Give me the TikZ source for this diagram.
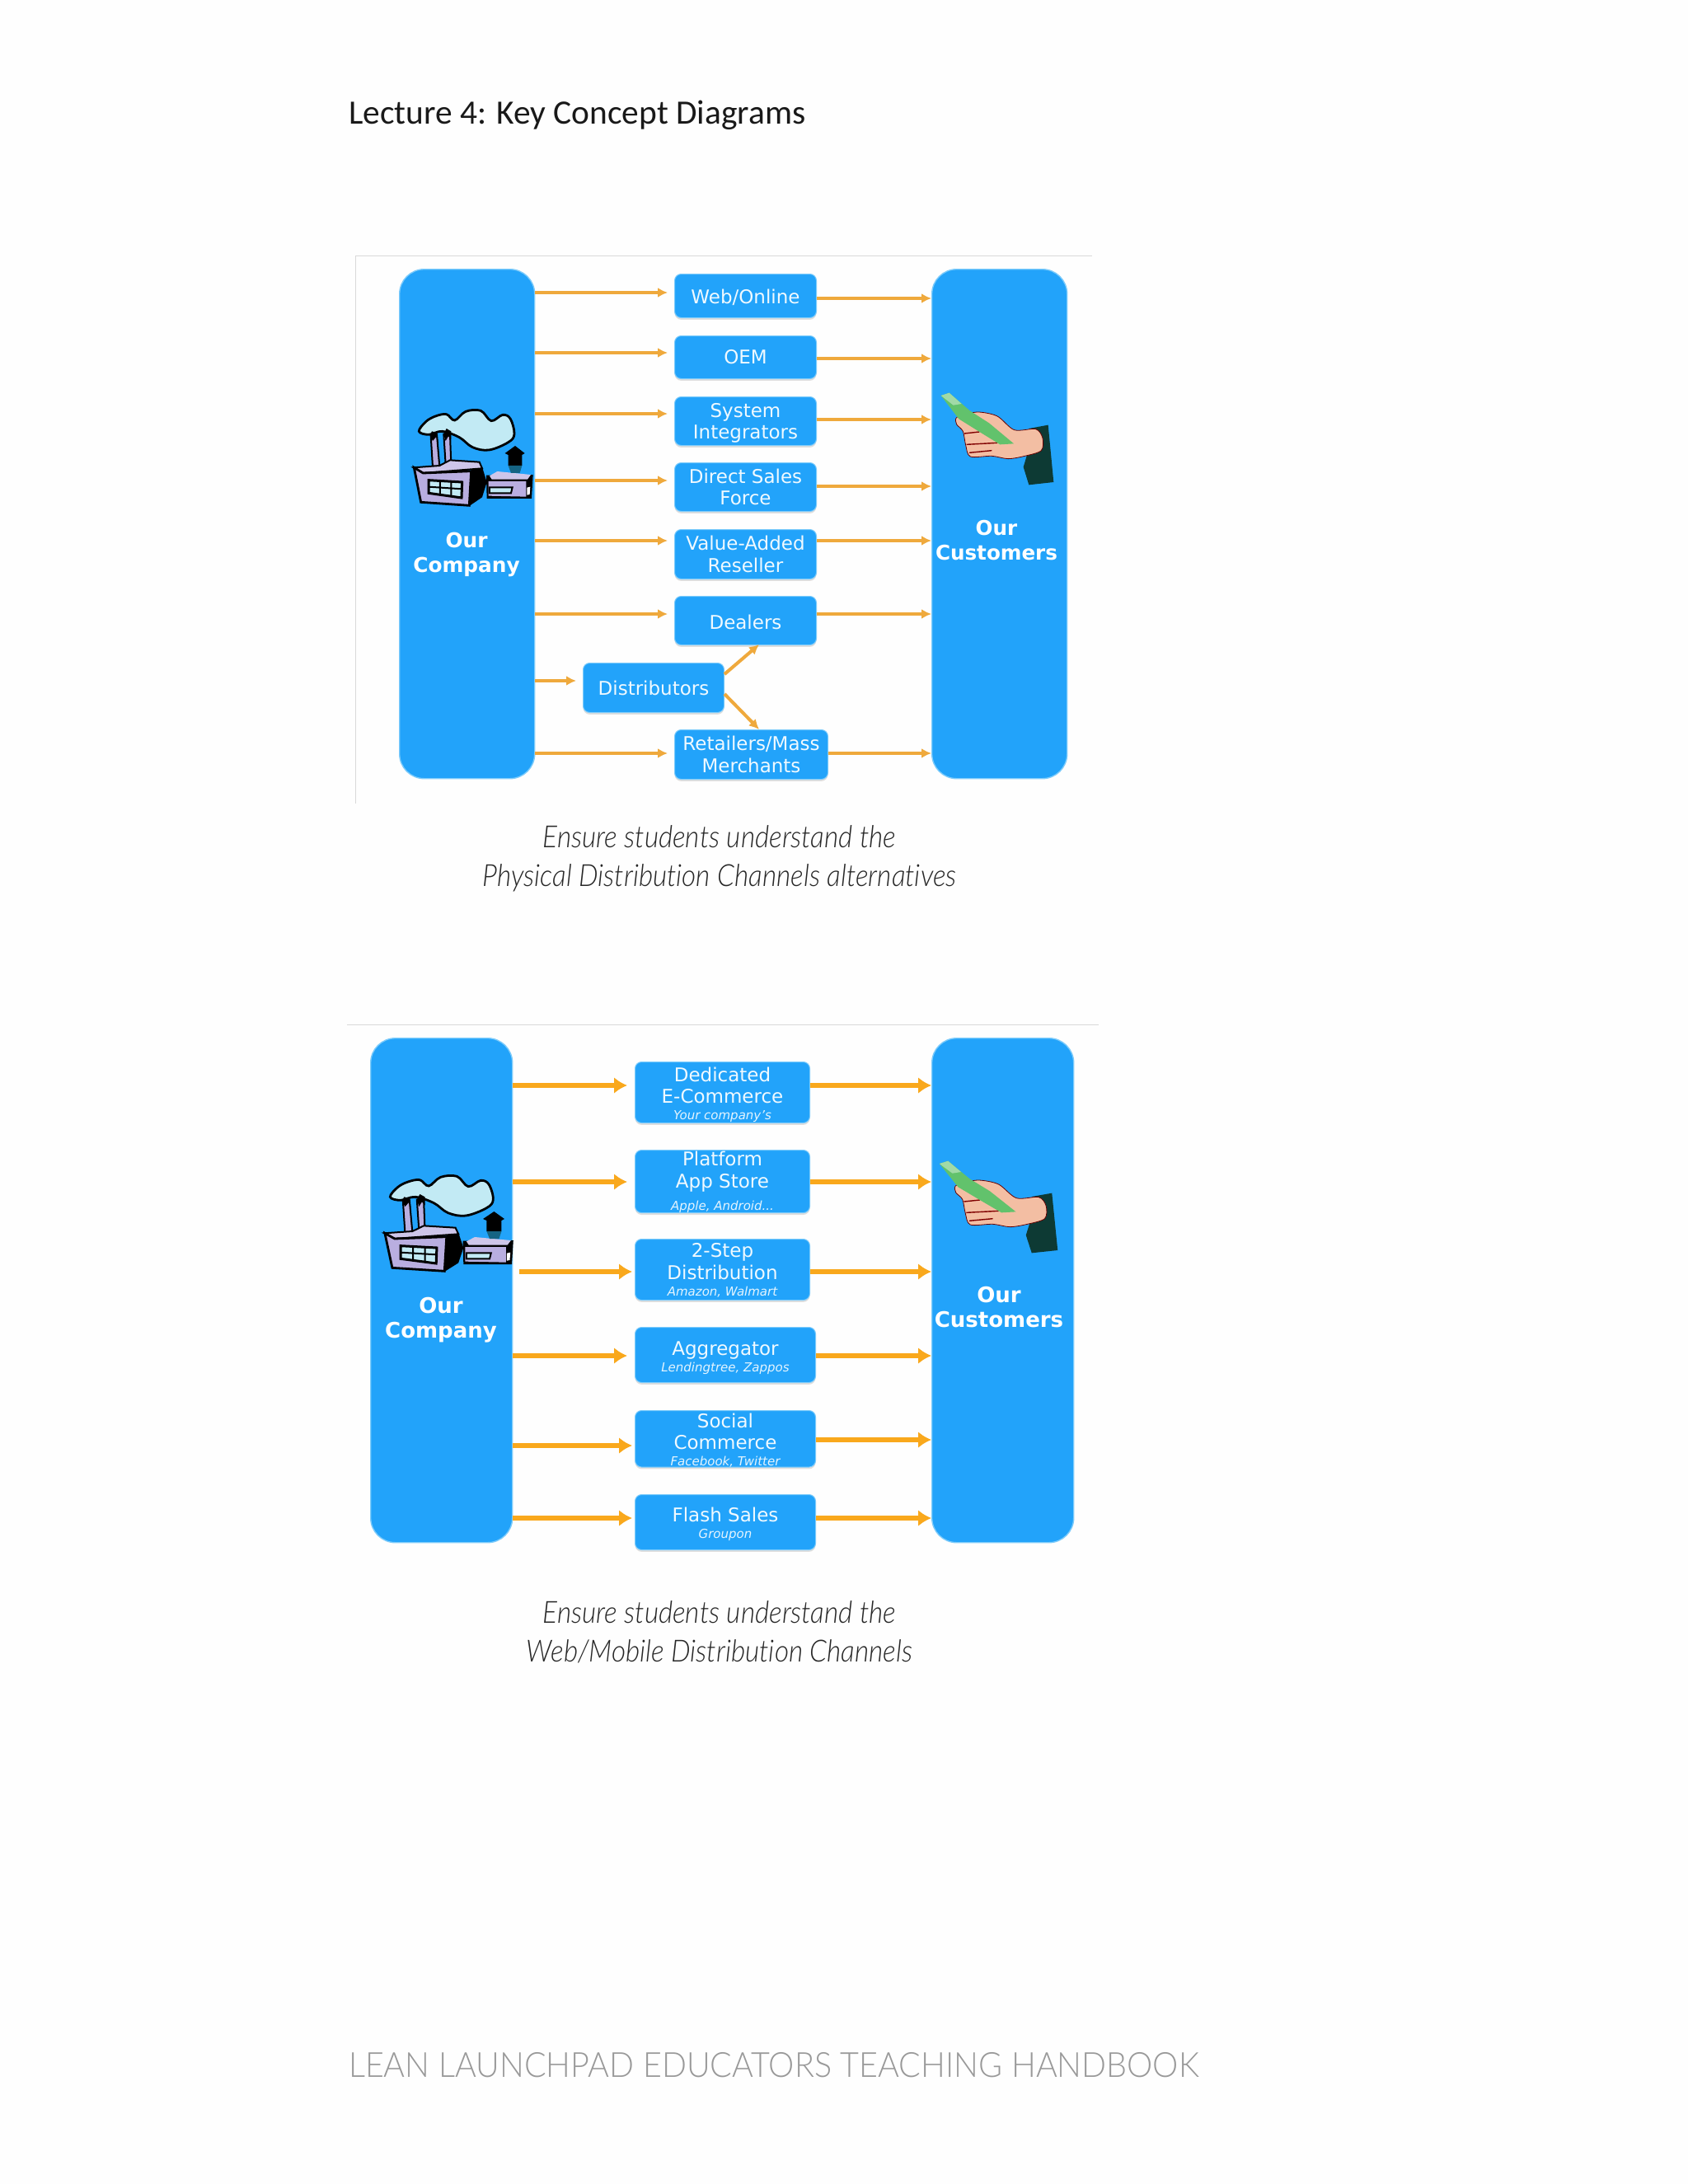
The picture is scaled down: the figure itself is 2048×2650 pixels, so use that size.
\documentclass[tikz,border=0pt]{standalone}
\usepackage{fontspec}
\setmainfont{DejaVu Sans}
\newfontfamily\gillfont{Carlito}
\newfontfamily\thinfont[FakeStretch=.9,Ligatures=NoCommon]{Lato Light}
\newfontfamily\footfont[FakeStretch=.94]{Lato Light}
\newcommand{\sublabelfont}{\fontsize{7.5}{9}\selectfont\itshape\color{white!88!panelblue}}
\newcommand{\topgap}[1]{\rule{0pt}{#1pt}}
\usetikzlibrary{arrows.meta,shadows}
\definecolor{pagewhite}{HTML}{FEFEFE}
\definecolor{panelblue}{HTML}{22A3FA}
\definecolor{paleblue}{HTML}{7CCBFB}
\definecolor{flowA}{HTML}{EFA93C}
\definecolor{flowB}{HTML}{F9A81C}
\definecolor{lilac}{HTML}{B9AEE0}
\definecolor{cloudblue}{HTML}{C2EAF4}
\definecolor{skin}{HTML}{F3BEA3}
\definecolor{billgreen}{HTML}{62C26C}
\definecolor{sleeve}{HTML}{0D3A34}
\tikzset{
	bar/.style={draw=paleblue, line width=.7pt, fill=panelblue, rounded corners=15pt, anchor=north west, inner sep=0pt},
	chan/.style={draw=paleblue, line width=.5pt, fill=panelblue, rounded corners=4pt, text=white!93!panelblue, align=center, anchor=north west, inner sep=0pt,
		drop shadow={shadow xshift=0pt, shadow yshift=-1.2pt, opacity=.25}, font=\fontsize{11.5}{13.3}\selectfont},
	barlabel/.style={text=white, align=center, font=\fontsize{#1}{15}\selectfont\bfseries},
	flowthin/.style={draw=flowA, line width=2pt, -{Latex[length=6pt,width=6pt]}},
	flowthick/.style={draw=flowB, line width=3.2pt, -{Latex[length=8pt,width=10pt]}},
	caption/.style={font=\fontsize{18.5}{23.7}\selectfont\thinfont\itshape, text=black!85, align=center},
	pics/factoryicon/.style={code={
		\draw[line width=1.4pt, fill=cloudblue] plot[smooth cycle, tension=.6] coordinates {(115,160) (140,125) (175,105) (215,98) (245,120) (285,88) (340,85) (378,122) (420,100) (448,115) (462,170) (440,200) (370,228) (310,218) (262,182) (200,160) (150,172)};
		\draw[line width=1pt, fill=lilac] (158,175) -- (180,172) -- (190,290) -- (165,290) --cycle;
		\draw[line width=1pt, fill=lilac] (205,170) -- (228,170) -- (232,280) -- (212,280) --cycle;
		\fill[black] (155,175) -- (162,160) -- (180,165) -- (185,200) -- (178,180) -- (165,195) --cycle;
		\fill[black] (205,170) -- (215,150) -- (232,160) -- (232,190) -- (222,178) -- (212,195) --cycle;
		\fill[black] (305,295) -- (345,290) -- (362,345) -- (345,400) -- (298,432) --cycle;
		\fill[black] (360,320) -- (530,318) -- (525,405) -- (362,405) --cycle;
		\draw[line width=1pt, fill=lilac!70!white] (95,292) -- (190,285) -- (228,265) -- (335,272) -- (345,295) -- (130,312) --cycle;
		\draw[line width=1.4pt, fill=lilac] (97,292) -- (130,312) -- (305,305) -- (298,430) -- (122,418) --cycle;
		\draw[line width=1.5pt, fill=cloudblue] (150,338) -- (272,345) -- (270,402) -- (150,385) --cycle;
		\draw[line width=1pt] (192,340) -- (192,392) (232,342) -- (232,398) (150,362) -- (270,370);
		\fill[lilac!70!white] (372,322) -- (400,306) -- (522,318) -- (510,335) -- (380,335) --cycle;
		\fill[lilac] (368,342) -- (505,342) -- (505,398) -- (368,395) --cycle;
		\draw[line width=1pt, fill=cloudblue] (372,364) -- (455,364) -- (450,385) -- (372,385) --cycle;
		\fill[white] (508,365) -- (520,362) -- (518,390) -- (508,392) --cycle;
		\fill[black] (428,240) -- (465,213) -- (500,240) -- (490,246) -- (490,285) -- (440,285) -- (440,246) --cycle;
		\fill[sleeve!60!panelblue] (440,285) -- (490,285) -- (482,312) -- (450,312) --cycle;
	}},
	pics/handicon/.style={code={
		\fill[sleeve] (445,210) -- (515,197) -- (535,405) -- (445,415) -- (425,350) -- (440,300) --cycle;
		\draw[line width=.4pt, draw=red!40!black, fill=skin] plot[smooth cycle, tension=.5] coordinates {(180,172) (205,160) (262,150) (330,165) (392,215) (470,212) (495,245) (490,290) (430,310) (370,320) (310,310) (232,312) (215,270) (205,220) (182,195)};
		\draw[line width=.7pt, draw=red!50!black] (210,228) -- (265,222) (218,268) -- (330,262) (228,298) -- (310,290);
		\fill[billgreen] (125,90) -- (155,80) -- (230,145) -- (300,190) -- (390,265) -- (340,268) -- (270,225) -- (190,175) --cycle;
		\fill[billgreen!60!white] (125,90) -- (155,80) -- (200,120) -- (170,125) --cycle;
	}},
}
\begin{document}
\begin{tikzpicture}[x=.5pt, y=-.5pt]
	\useasboundingbox (0,0) rectangle (2048,2650);
	\fill[pagewhite] (0,0) rectangle (2048,2650);

	\node[anchor=west, font=\fontsize{20.7}{24}\selectfont\gillfont, text=black!90] (title) at (416,140) {Lecture 4: Key Concept Diagrams};

	% first picture
	\draw[black!15, line width=.5pt] (431,975) -- (431,310) -- (1325,310);
	\node[bar, minimum width=82pt, minimum height=309pt] (company) at (484,326) {};
	\node[bar, minimum width=82pt, minimum height=309pt] (customers) at (1130,326) {};
	\node[chan, minimum width=86pt, minimum height=26.5pt] (web) at (818,332) {\topgap{10.5}Web/Online};
	\node[chan, minimum width=86pt, minimum height=26pt] (oem) at (818,407) {OEM};
	\node[chan, minimum width=86pt, minimum height=29.5pt] (sys) at (818,481) {\topgap{11}System\\Integrators};
	\node[chan, minimum width=86pt, minimum height=29.5pt] (direct) at (818,561) {Direct Sales\\Force};
	\node[chan, minimum width=86pt, minimum height=30pt] (value) at (818,642) {Value-Added\\Reseller};
	\node[chan, minimum width=86pt, minimum height=29.5pt] (dealers) at (818,723) {\topgap{10.5}Dealers};
	\node[chan, minimum width=85.5pt, minimum height=30pt] (distrib) at (707,804) {Distributors};
	\node[chan, minimum width=93pt, minimum height=30pt] (retail) at (818,885) {Retailers/Mass\\Merchants};
	\node[barlabel=12.4] (companytext) at (566,673) {Our\\Company};
	\node[barlabel=12.3] (customertext) at (1209,656) {Our\\Customers};
	\pic[shift={(470,470)}, scale=.3333] {factoryicon};
	\pic[shift={(1100,450)}, scale=.3333] {handicon};

	\foreach \boxname/\ypos in {web/355,oem/428,sys/502,direct/583,value/656,dealers/745,retail/914}
		\draw[flowthin] (company.east |- 0,\ypos) -- ([xshift=-4pt]\boxname.west |- 0,\ypos);
	\draw[flowthin] (company.east |- 0,826) -- ([xshift=-4pt]distrib.west |- 0,826);
	\foreach \boxname/\ypos in {web/362,oem/435,sys/509,direct/590,value/656,dealers/745,retail/914}
		\draw[flowthin] (\boxname.east |- 0,\ypos) -- (customers.west |- 0,\ypos);
	\draw[flowthin] (distrib.east |- 0,818) -- (921,782);
	\draw[flowthin] (distrib.east |- 0,842) -- (921,885);

	\node[caption] (captionone) at (873,1042) {Ensure students understand the\\Physical Distribution Channels alternatives};

	% second picture
	\draw[black!15, line width=.5pt] (421,1243) -- (1333,1243);
	\node[bar, minimum width=86pt, minimum height=306pt] (companytwo) at (449,1259) {};
	\node[bar, minimum width=86pt, minimum height=306pt] (customerstwo) at (1130,1259) {};
	\node[chan, minimum width=106pt, minimum height=37pt] (dedicated) at (770,1288) {\topgap{11.2}Dedicated\\E-Commerce\\[-3.5pt]{\sublabelfont Your company's}};
	\node[chan, minimum width=106pt, minimum height=37pt] (platform) at (770,1395) {\topgap{9.6}Platform\\App Store\\[.3pt]{\sublabelfont Apple, Android...}};
	\node[chan, minimum width=106pt, minimum height=37pt] (twostep) at (770,1503) {\topgap{9.6}2-Step\\Distribution\\[-2.9pt]{\sublabelfont Amazon, Walmart}};
	\node[chan, minimum width=109.5pt, minimum height=33.5pt] (aggregator) at (770,1610) {\topgap{12}Aggregator\\[-3.6pt]{\sublabelfont Lendingtree, Zappos}};
	\node[chan, minimum width=109.5pt, minimum height=34pt] (social) at (770,1711) {\topgap{10.4}Social\\Commerce\\[-3.6pt]{\sublabelfont Facebook, Twitter}};
	\node[chan, minimum width=109.5pt, minimum height=33.5pt] (flash) at (770,1813) {\topgap{11.2}Flash Sales\\[-3.5pt]{\sublabelfont Groupon}};
	\node[barlabel=13] (companytexttwo) at (535,1602) {Our\\Company};
	\node[barlabel=13] (customertexttwo) at (1212,1586) {Our\\Customers};
	\pic[shift={(432,1399)}, xscale=.36, yscale=.3333] {factoryicon};
	\pic[shift={(1096,1382)}, xscale=.35, yscale=.3333] {handicon};

	\foreach \boxname/\ypos in {dedicated/1317,platform/1434,aggregator/1645}
		\draw[flowthick] (companytwo.east |- 0,\ypos) -- ([xshift=-4.5pt]\boxname.west |- 0,\ypos);
	\draw[flowthick] (630,1543) -- ([xshift=-1.5pt]twostep.west |- 0,1543);
	\foreach \boxname/\ypos in {social/1754,flash/1842}
		\draw[flowthick] (companytwo.east |- 0,\ypos) -- ([xshift=-1.5pt]\boxname.west |- 0,\ypos);
	\foreach \boxname/\ypos in {dedicated/1317,platform/1434,twostep/1543,aggregator/1645,social/1747,flash/1842}
		\draw[flowthick] (\boxname.east |- 0,\ypos) -- (customerstwo.west |- 0,\ypos);

	\node[caption] (captiontwo) at (873,1980) {Ensure students understand the\\Web/Mobile Distribution Channels};

	\node[anchor=west, font=\fontsize{21}{24}\selectfont\footfont, text=black!40] (footer) at (416,2506) {LEAN LAUNCHPAD EDUCATORS TEACHING HANDBOOK};
\end{tikzpicture}
\end{document}
